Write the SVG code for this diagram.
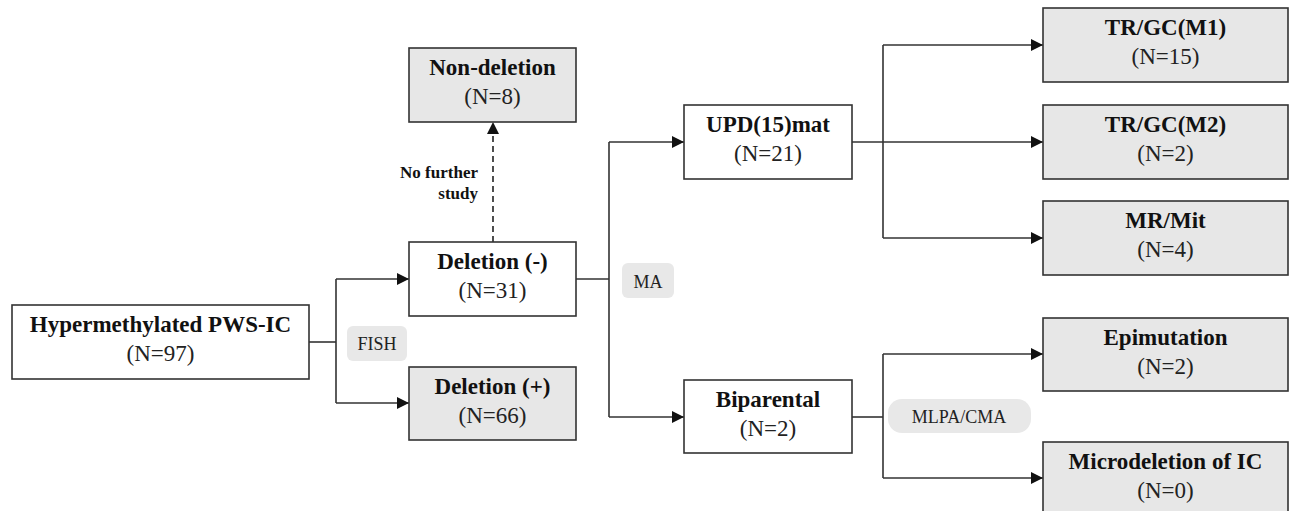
<svg xmlns="http://www.w3.org/2000/svg" width="1289" height="511" viewBox="0 0 1289 511" font-family="'Liberation Serif', 'Times New Roman', serif">
<defs>
<marker id="arr" viewBox="0 0 12 12" refX="12" refY="6" markerWidth="12" markerHeight="12" markerUnits="userSpaceOnUse" orient="auto">
<path d="M0,0 L12,6 L0,12 Z" fill="#111"/>
</marker>
</defs>
<style>
.box{fill:#fff;stroke:#333;stroke-width:1.6}
.gbox{fill:#e7e7e7;stroke:#333;stroke-width:1.6}
.t1{font-size:23px;font-weight:bold;fill:#111;text-anchor:middle}
.t2{font-size:23px;fill:#222;text-anchor:middle}
.lbl{fill:#e8e8e8;stroke:none}
.lt{font-size:18px;fill:#222;text-anchor:middle}
.nf{font-size:17px;font-weight:bold;fill:#111;text-anchor:end}
.c{fill:none;stroke:#333;stroke-width:1.6}
.d{fill:none;stroke:#222;stroke-width:1.6;stroke-dasharray:6,4}
</style>
<g id="connectors">
<path class="c" d="M309,342 H336"/>
<path class="c" d="M336,279 V403"/>
<path class="c" d="M336,279 H409" marker-end="url(#arr)"/>
<path class="c" d="M336,403 H409" marker-end="url(#arr)"/>
<path class="d" d="M493,242 V122" marker-end="url(#arr)"/>
<path class="c" d="M576,279 H609"/>
<path class="c" d="M609,142 V417"/>
<path class="c" d="M609,142 H684" marker-end="url(#arr)"/>
<path class="c" d="M609,417 H684" marker-end="url(#arr)"/>
<path class="c" d="M852,142 H1043" marker-end="url(#arr)"/>
<path class="c" d="M883,45 V238"/>
<path class="c" d="M883,45 H1043" marker-end="url(#arr)"/>
<path class="c" d="M883,238 H1043" marker-end="url(#arr)"/>
<path class="c" d="M852,417 H883"/>
<path class="c" d="M883,354 V478"/>
<path class="c" d="M883,354 H1043" marker-end="url(#arr)"/>
<path class="c" d="M883,478 H1043" marker-end="url(#arr)"/>
</g>
<g id="label-fish">
<rect class="lbl" x="347" y="326" width="60" height="35" rx="6"/>
<text class="lt" x="377" y="350">FISH</text>
</g>
<g id="label-nofurther">
<text class="nf" x="478" y="178">No further</text>
<text class="nf" x="478" y="199">study</text>
</g>
<g id="label-ma">
<rect class="lbl" x="622" y="263" width="52" height="35" rx="6"/>
<text class="lt" x="648" y="288">MA</text>
</g>
<g id="label-mlpa">
<rect class="lbl" x="888" y="399" width="143" height="34" rx="14"/>
<text class="lt" x="959" y="423">MLPA/CMA</text>
</g>
<g id="n-hyper">
<rect class="box" x="12" y="305" width="297" height="74"/>
<text class="t1" x="160.5" y="332">Hypermethylated PWS-IC</text>
<text class="t2" x="160.5" y="361">(N=97)</text>
</g>
<g id="n-nondel">
<rect class="gbox" x="409" y="48" width="167" height="74"/>
<text class="t1" x="492.5" y="75">Non-deletion</text>
<text class="t2" x="492.5" y="104">(N=8)</text>
</g>
<g id="n-delminus">
<rect class="box" x="409" y="242" width="167" height="74"/>
<text class="t1" x="492.5" y="269">Deletion (-)</text>
<text class="t2" x="492.5" y="298">(N=31)</text>
</g>
<g id="n-delplus">
<rect class="gbox" x="409" y="367" width="167" height="73"/>
<text class="t1" x="492.5" y="394">Deletion (+)</text>
<text class="t2" x="492.5" y="423">(N=66)</text>
</g>
<g id="n-upd">
<rect class="box" x="684" y="105" width="168" height="74"/>
<text class="t1" x="768" y="132">UPD(15)mat</text>
<text class="t2" x="768" y="161">(N=21)</text>
</g>
<g id="n-bip">
<rect class="box" x="684" y="380" width="168" height="73"/>
<text class="t1" x="768" y="407">Biparental</text>
<text class="t2" x="768" y="436">(N=2)</text>
</g>
<g id="n-m1">
<rect class="gbox" x="1043" y="8" width="245" height="74"/>
<text class="t1" x="1165.5" y="35">TR/GC(M1)</text>
<text class="t2" x="1165.5" y="64">(N=15)</text>
</g>
<g id="n-m2">
<rect class="gbox" x="1043" y="105" width="245" height="74"/>
<text class="t1" x="1165.5" y="132">TR/GC(M2)</text>
<text class="t2" x="1165.5" y="161">(N=2)</text>
</g>
<g id="n-mr">
<rect class="gbox" x="1043" y="201" width="245" height="74"/>
<text class="t1" x="1165.5" y="228">MR/Mit</text>
<text class="t2" x="1165.5" y="257">(N=4)</text>
</g>
<g id="n-epi">
<rect class="gbox" x="1043" y="318" width="245" height="73"/>
<text class="t1" x="1165.5" y="345">Epimutation</text>
<text class="t2" x="1165.5" y="374">(N=2)</text>
</g>
<g id="n-micro">
<rect class="gbox" x="1043" y="442" width="245" height="74"/>
<text class="t1" x="1165.5" y="469">Microdeletion of IC</text>
<text class="t2" x="1165.5" y="498">(N=0)</text>
</g>
</svg>
